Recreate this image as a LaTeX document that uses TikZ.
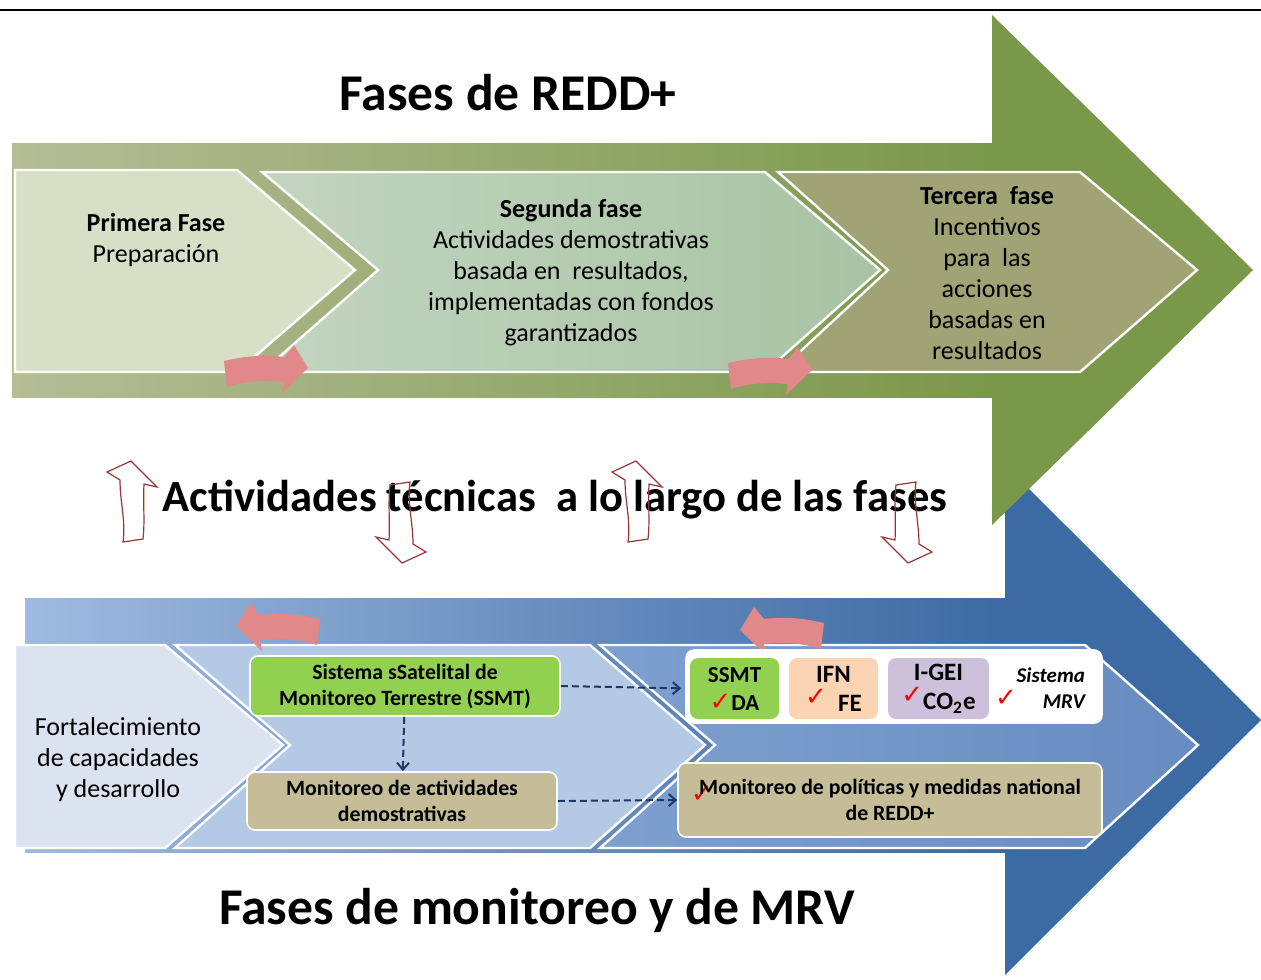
\documentclass[tikz,border=0pt]{standalone}
\usepackage{fontspec}
\setmainfont{Carlito}
\newfontfamily\symfont{DejaVu Sans}
\usetikzlibrary{arrows.meta,positioning}
\definecolor{greenlight}{RGB}{180,189,150}
\definecolor{greenhead}{RGB}{122,152,74}
\definecolor{primfill}{RGB}{215,223,199}
\definecolor{segleft}{RGB}{194,213,192}
\definecolor{segright}{RGB}{168,195,163}
\definecolor{tercfill}{RGB}{160,163,115}
\definecolor{bluelight}{RGB}{158,186,224}
\definecolor{bluehead}{RGB}{60,106,162}
\definecolor{fortfill}{RGB}{219,227,240}
\definecolor{secfill}{RGB}{180,201,228}
\definecolor{thirdleft}{RGB}{126,160,208}
\definecolor{thirdright}{RGB}{104,140,192}
\definecolor{ssmtgreen}{RGB}{146,208,80}
\definecolor{tanfill}{RGB}{196,189,151}
\definecolor{peachfill}{RGB}{251,212,180}
\definecolor{lavfill}{RGB}{204,192,218}
\definecolor{navyline}{RGB}{31,56,100}
\definecolor{pinkarr}{RGB}{224,136,138}
\definecolor{hollowred}{RGB}{150,55,55}
\newcommand{\redtick}{{\symfont\fontsize{13}{13}\selectfont\color{red}✓}}
\tikzset{
    bigtitle/.style={font=\bfseries\fontsize{25.8}{30}\selectfont, inner sep=0pt},
    midtitle/.style={font=\bfseries\fontsize{22.3}{27}\selectfont, inner sep=0pt},
    chevline/.style={draw=white, line width=1.2pt},
    chevtext/.style={align=center, inner sep=0pt, font=\fontsize{13}{15.5}\selectfont},
    boxbase/.style={rounded corners=4pt, draw=white, line width=0.8pt, align=center, inner sep=0pt, font=\bfseries\fontsize{10.9}{13}\selectfont},
    boxssmt/.style={boxbase, fill=ssmtgreen, minimum width=155pt, minimum height=30pt},
    boxtan/.style={boxbase, fill=tanfill, minimum width=155pt, minimum height=29pt},
    boxsmall/.style={boxbase, draw=none, minimum width=44.5pt, minimum height=30.5pt, font=\bfseries\fontsize{11.5}{14}\selectfont},
    dasharrow/.style={draw=navyline, line width=1pt, dash pattern=on 3.5pt off 2pt, -{Straight Barb[length=3.5pt,width=6pt]}},
    hollowline/.style={draw=hollowred, line width=0.6pt},
    pinkarrow/.pic={
        \fill[pinkarr] (0,-9) .. controls (25,-15) and (45,-15) .. (60,-13) -- (70,-25) -- (84,-2) -- (58,23) -- (60,12) .. controls (40,10) and (22,11) .. (3,17) -- cycle;
    },
    hollowarrow/.pic={
        \draw[hollowline] (-10,0) .. controls (-7,-20) and (-13,-40) .. (-13,-62) -- (-26,-70) -- (-2,-81) -- (24,-55) -- (11,-58) .. controls (10,-38) and (12,-20) .. (10,-3) -- cycle;
    }
}

\begin{document}
\begin{tikzpicture}[x=0.5pt,y=-0.5pt]
        \useasboundingbox[fill=white] (0,0) rectangle (1261,979);
        \draw[line width=1.2pt] (0,10) -- (1261,10);

        % Monitoring arrow (blue)
        \fill[bluehead] (25,598) -- (1005,598) -- (1005,465) -- (1261,720) -- (1005,975) -- (1005,852) -- (25,852) -- cycle;
        \shade[left color=bluelight, right color=bluehead] (25,598) rectangle (1005,852);
        \filldraw[chevline, fill=fortfill] (15,645) -- (165,645) -- (283,745) -- (165,848) -- (15,848) -- cycle;
        \filldraw[chevline, fill=secfill] (175,645) -- (590,645) -- (705,745) -- (590,848) -- (175,848) -- (290,745) -- cycle;
        \shadedraw[chevline, left color=thirdleft, right color=thirdright] (600,645) -- (1085,645) -- (1198,745) -- (1085,848) -- (600,848) -- (715,745) -- cycle;

        % REDD+ arrow (green)
        \fill[greenhead] (12,143) -- (992,143) -- (992,15) -- (1253,270) -- (992,525) -- (992,397) -- (12,397) -- cycle;
        \shade[left color=greenlight, right color=greenhead] (12,143) rectangle (992,397);
        \filldraw[chevline, fill=primfill] (15,170) -- (237,170) -- (355,270) -- (237,372) -- (15,372) -- cycle;
        \shadedraw[chevline, left color=segleft, right color=segright] (262,172) -- (765,172) -- (880,270) -- (765,372) -- (262,372) -- (378,270) -- cycle;
        \filldraw[chevline, fill=tercfill] (778,172) -- (1080,172) -- (1197,270) -- (1080,372) -- (778,372) -- (888,270) -- cycle;

        % pink turn arrows
        \pic at (224,370) {pinkarrow};
        \pic at (728,372) {pinkarrow};
        \pic[xscale=-1] at (320,628) {pinkarrow};
        \pic[xscale=-1] at (824,632) {pinkarrow};

        % titles
        \node[bigtitle] (reddtitle) at (508,93) {Fases de REDD+};
        \node[midtitle] (tecnicas) at (555,500) {Actividades técnicas~ a lo largo de las fases};
        \node[bigtitle] (mrvtitle) at (537,910) {Fases de monitoreo y de MRV};

        % phase texts
        \node[chevtext] (primera) at (156,240) {\bfseries Primera Fase\\Preparación};
        \node[chevtext] (segunda) at (571,273) {\bfseries Segunda fase\\Actividades demostrativas\\basada en~ resultados,\\implementadas con fondos\\garantizados};
        \node[chevtext] (tercera) at (987,273) {\bfseries Tercera~ fase\\Incentivos\\para~ las\\acciones\\basadas en\\resultados};
        \node[chevtext] (fortalec) at (118,760) {Fortalecimiento\\de capacidades\\y desarrollo};

        % hollow up/down arrows
        \pic at (133,542) {hollowarrow};
        \pic[rotate=180] at (400,482) {hollowarrow};
        \pic at (638,542) {hollowarrow};
        \pic[rotate=180] at (906,482) {hollowarrow};

        % monitoring boxes
        \node[boxssmt] (ssmt) at (405,686) {Sistema sSatelital de\\Monitoreo Terrestre (SSMT)};
        \node[boxtan] (monact) at (402,801) {Monitoreo de actividades\\demostrativas};
        \node[boxbase, fill=white, minimum width=208pt, minimum height=36.5pt] (mrvbox) at (894,686.5) {};
        \node[boxsmall, fill=ssmtgreen] (ssmtda) at (734.5,688.5) {SSMT\\\redtick DA};
        \node[boxsmall, fill=peachfill, font=\bfseries\fontsize{12.5}{14.5}\selectfont] (ifnfe) at (833.5,688.5) {IFN\\\raisebox{3pt}{\redtick}\ \ FE};
        \node[boxsmall, fill=lavfill, minimum width=50.5pt, font=\bfseries\fontsize{12.5}{14.5}\selectfont] (igei) at (938.5,688.5) {I-GEI\\\raisebox{3pt}{\redtick}CO\textsubscript{2}e};
        \node[align=right, inner sep=0pt, font=\bfseries\itshape\fontsize{10.5}{13}\selectfont] (sistmrv) at (1040,688) {Sistema\\\raisebox{1pt}{\redtick}\hspace{13pt}MRV};
        \node[boxtan, minimum width=212pt, minimum height=37pt] (monpol) at (890,800) {\rlap{\hspace{-4pt}\raisebox{-4pt}{\redtick}}Monitoreo de políticas y medidas national\\de REDD+};

        \draw[dasharrow] (ssmt) -- (monact);
        \draw[dasharrow, shorten >=4pt] (ssmt.east) -- (ssmtda.west);
        \draw[dasharrow] (monact.east) -- (monpol.west);
    \end{tikzpicture}
\end{document}
